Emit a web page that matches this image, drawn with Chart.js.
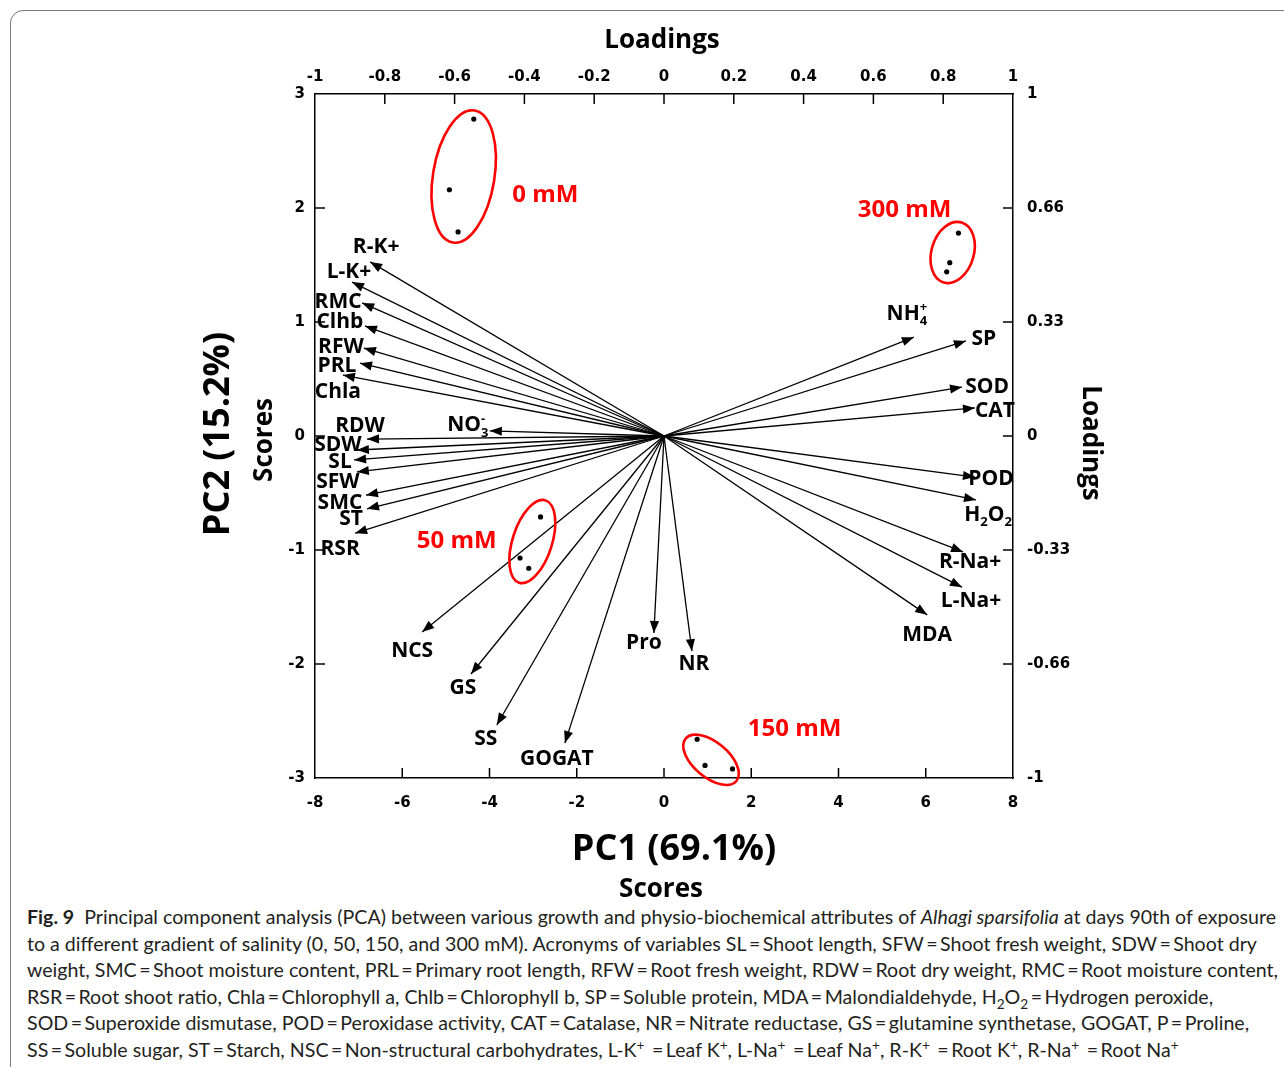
<!DOCTYPE html>
<html>
<head>
<meta charset="utf-8">
<title>PCA biplot</title>
<script src="https://cdn.jsdelivr.net/npm/chart.js@4.4.0/dist/chart.umd.min.js"></script>
<style>
  html, body { margin: 0; padding: 0; background: #fff; }
  body { width: 1284px; height: 1067px; position: relative; overflow: hidden; }
  #frame { position: absolute; left: 10px; top: 10px; width: 1320px; height: 1120px;
           border: 1.5px solid #7a7a7a; border-radius: 13px; }
  #chart { position: absolute; left: 0; top: 0; }
  #caption { position: absolute; left: 27px; top: 904px; font-family: Lato, "Noto Sans", sans-serif;
             font-size: 19px; line-height: 26.6px; color: #231f20; white-space: nowrap; transform-origin: 0 0; }
  #caption span.line { display: inline-block; }
  #caption sup, #caption sub { font-size: 0.7em; line-height: 0; }
</style>
</head>
<body>
<div id="frame"></div>
<canvas id="chart" width="1284" height="900"></canvas>
<div id="caption">
  <div><span class="line"><b>Fig. 9</b>&nbsp; Principal component analysis (PCA) between various growth and physio-biochemical attributes of <i>Alhagi sparsifolia</i> at days 90th of exposure</span></div>
  <div><span class="line">to a different gradient of salinity (0, 50, 150, and 300 mM). Acronyms of variables SL&thinsp;=&thinsp;Shoot length, SFW&thinsp;=&thinsp;Shoot fresh weight, SDW&thinsp;=&thinsp;Shoot dry</span></div>
  <div><span class="line">weight, SMC&thinsp;=&thinsp;Shoot moisture content, PRL&thinsp;=&thinsp;Primary root length, RFW&thinsp;=&thinsp;Root fresh weight, RDW&thinsp;=&thinsp;Root dry weight, RMC&thinsp;=&thinsp;Root moisture content,</span></div>
  <div><span class="line">RSR&thinsp;=&thinsp;Root shoot ratio, Chla&thinsp;=&thinsp;Chlorophyll a, Chlb&thinsp;=&thinsp;Chlorophyll b, SP&thinsp;=&thinsp;Soluble protein, MDA&thinsp;=&thinsp;Malondialdehyde, H<sub>2</sub>O<sub>2</sub>&thinsp;=&thinsp;Hydrogen peroxide,</span></div>
  <div><span class="line">SOD&thinsp;=&thinsp;Superoxide dismutase, POD&thinsp;=&thinsp;Peroxidase activity, CAT&thinsp;=&thinsp;Catalase, NR&thinsp;=&thinsp;Nitrate reductase, GS&thinsp;=&thinsp;glutamine synthetase, GOGAT, P&thinsp;=&thinsp;Proline,</span></div>
  <div><span class="line">SS&thinsp;=&thinsp;Soluble sugar, ST&thinsp;=&thinsp;Starch, NSC&thinsp;=&thinsp;Non-structural carbohydrates, L-K<sup>+</sup> &thinsp;=&thinsp;Leaf K<sup>+</sup>, L-Na<sup>+</sup> &thinsp;=&thinsp;Leaf Na<sup>+</sup>, R-K<sup>+</sup> &thinsp;=&thinsp;Root K<sup>+</sup>, R-Na<sup>+</sup> &thinsp;=&thinsp;Root Na<sup>+</sup></span></div>
</div>
<script>
// --- data: sample scores (PC1, PC2) per salinity group ---
const groupNames = ['0 mM', '50 mM', '150 mM', '300 mM'];
const pc1_0mM = [-4.36, -4.92, -4.72];
const pc2_0mM = [2.78, 2.16, 1.79];
const pc1_50mM = [-2.83, -3.30, -3.10];
const pc2_50mM = [-0.71, -1.07, -1.16];
const pc1_150mM = [0.76, 0.94, 1.57];
const pc2_150mM = [-2.66, -2.89, -2.92];
const pc1_300mM = [6.75, 6.55, 6.48];
const pc2_300mM = [1.78, 1.52, 1.44];

// --- data: variable loadings ('_' = subscript, '^' = superscript for next char) ---
const varNames = ['R-K+', 'L-K+', 'RMC', 'Clhb', 'RFW', 'PRL', 'Chla', 'NO_3^-', 'RDW', 'SDW',
  'SL', 'SFW', 'SMC', 'ST', 'RSR', 'NH_4^+', 'SP', 'SOD', 'CAT', 'POD',
  'H_2O_2', 'R-Na+', 'L-Na+', 'MDA', 'NR', 'Pro', 'NCS', 'GS', 'SS', 'GOGAT'];
const loadPC1 = [-0.842, -0.894, -0.865, -0.857, -0.860, -0.871, -0.920, -0.499, -0.851, -0.880,
  -0.888, -0.880, -0.854, -0.851, -0.885, 0.716, 0.865, 0.854, 0.891, 0.891,
  0.894, 0.857, 0.854, 0.754, 0.080, -0.029, -0.693, -0.553, -0.479, -0.284];
const loadPC2 = [0.509, 0.450, 0.389, 0.322, 0.257, 0.213, 0.178, 0.015, -0.009, -0.041,
  -0.070, -0.105, -0.173, -0.213, -0.284, 0.289, 0.278, 0.143, 0.082, -0.120,
  -0.187, -0.339, -0.442, -0.523, -0.629, -0.576, -0.573, -0.696, -0.845, -0.898];

// --- tick labels ---
const scoreXTicks = [-8, -6, -4, -2, 0, 2, 4, 6, 8];
const scoreYTicks = [-3, -2, -1, 0, 1, 2, 3];
const loadXTicks = [-1, -0.8, -0.6, -0.4, -0.2, 0, 0.2, 0.4, 0.6, 0.8, 1];
const loadXLabels = ['-1', '-0.8', '-0.6', '-0.4', '-0.2', '0', '0.2', '0.4', '0.6', '0.8', '1'];
const loadYTicks = [-1, -2 / 3, -1 / 3, 0, 1 / 3, 2 / 3, 1];
const loadYLabels = ['-1', '-0.66', '-0.33', '0', '0.33', '0.66', '1'];

// --- layout / style (pixels) ---
const labelOffset = [[6, -16], [-3, -12], [-24, -3], [-25, -5], [-23, -3], [-23, 1], [-5, 15], [-22, -7], [-7, -15], [-19, -7],
  [-14, 0], [-19, 9], [-26, 6], [-16, 9], [-15, 14], [-7, -25], [18, -3], [25, -2], [20, 1], [16, 0],
  [12, 13], [7, 9], [9, 12], [0, 19], [2, 11], [-10, 8], [-10, 17], [-8, 12], [-11, 12], [-8, 14]];
const groupLabelOffset = [[85, 13], [-73, -8], [83, -30], [-47, -47]];
const ellipsePad = [[10, 23], [17, 14], [10, 10], [11, 21]];
const ellipseShift = [[4, 2], [1, 0], [1, 0], [0, 0]];
const LABEL_FONT = '"Open Sans", "DejaVu Sans", sans-serif';
const TICK_FONT = { family: '"DejaVu Sans", sans-serif', size: 15, weight: 'bold' };

const groupData = [[pc1_0mM, pc2_0mM], [pc1_50mM, pc2_50mM], [pc1_150mM, pc2_150mM], [pc1_300mM, pc2_300mM]];

const datasets = [];
groupData.forEach(([xs, ys], g) => {
  datasets.push({
    label: groupNames[g],
    data: xs.map((v, i) => ({ x: v, y: ys[i] })),
    xAxisID: 'x', yAxisID: 'y',
    pointRadius: 2.6, pointBackgroundColor: '#000', pointBorderWidth: 0,
    showLine: false
  });
});
varNames.forEach((n, i) => {
  datasets.push({
    label: n,
    data: [{ x: 0, y: 0 }, { x: loadPC1[i], y: loadPC2[i] }],
    xAxisID: 'x2', yAxisID: 'y2',
    showLine: true, borderColor: '#000', borderWidth: 1.3,
    pointRadius: 0
  });
});

function parseLabel(s) {
  const segs = [];
  for (let i = 0; i < s.length; i++) {
    const c = s[i];
    if ((c === '_' || c === '^') && i + 1 < s.length) {
      segs.push({ t: s[i + 1], k: c === '_' ? 'sub' : 'sup' });
      i++;
    } else if (segs.length && segs[segs.length - 1].k === 'n') {
      segs[segs.length - 1].t += c;
    } else {
      segs.push({ t: c, k: 'n' });
    }
  }
  return segs;
}

function drawRich(ctx, text, cx, cy, size) {
  const segs = parseLabel(text);
  const big = 'bold ' + size + 'px ' + LABEL_FONT;
  const small = 'bold ' + Math.round(size * 0.62) + 'px ' + LABEL_FONT;
  // lay out segments; a sup right after a sub stacks above it
  let x = 0;
  const items = [];
  let lastSub = null;
  segs.forEach(s => {
    ctx.font = s.k === 'n' ? big : small;
    const w = ctx.measureText(s.t).width;
    if (s.k === 'sup' && lastSub) {
      items.push({ s, x: lastSub.x });
      x = Math.max(x, lastSub.x + w);
      lastSub = null;
    } else {
      items.push({ s, x });
      if (s.k === 'sub') lastSub = { x }; else lastSub = null;
      x += w;
    }
  });
  const left = cx - x / 2;
  const base = cy + size * 0.36;
  items.forEach(({ s, x: ox }) => {
    ctx.font = s.k === 'n' ? big : small;
    let by = base;
    if (s.k === 'sub') by = base + size * 0.25;
    if (s.k === 'sup') by = base - size * 0.42;
    ctx.fillText(s.t, left + ox, by);
  });
}

const decor = {
  id: 'pcaDecor',
  afterDatasetsDraw(chart) {
    const ctx = chart.ctx;
    const { x2, y2 } = chart.scales;
    ctx.save();
    ctx.fillStyle = '#000';
    ctx.textAlign = 'left';
    ctx.textBaseline = 'alphabetic';
    const ox = x2.getPixelForValue(0), oy = y2.getPixelForValue(0);
    // arrowheads and variable labels
    varNames.forEach((n, i) => {
      const px = x2.getPixelForValue(loadPC1[i]);
      const py = y2.getPixelForValue(loadPC2[i]);
      const a = Math.atan2(py - oy, px - ox);
      const L = 12, W = 4.6;
      ctx.beginPath();
      ctx.moveTo(px, py);
      ctx.lineTo(px - L * Math.cos(a) + W * Math.sin(a), py - L * Math.sin(a) - W * Math.cos(a));
      ctx.lineTo(px - L * Math.cos(a) - W * Math.sin(a), py - L * Math.sin(a) + W * Math.cos(a));
      ctx.closePath();
      ctx.fill();
      drawRich(ctx, n, px + labelOffset[i][0], py + labelOffset[i][1], 21);
    });
    // group ellipses and labels, sized from the group's points
    groupData.forEach((_, g) => {
      const pts = chart.getDatasetMeta(g).data.map(p => ({ x: p.x, y: p.y }));
      const mx = pts.reduce((s, p) => s + p.x, 0) / pts.length;
      const my = pts.reduce((s, p) => s + p.y, 0) / pts.length;
      let sxx = 0, syy = 0, sxy = 0;
      pts.forEach(p => { sxx += (p.x - mx) ** 2; syy += (p.y - my) ** 2; sxy += (p.x - mx) * (p.y - my); });
      const th = 0.5 * Math.atan2(2 * sxy, sxx - syy);
      const ux = Math.cos(th), uy = Math.sin(th);
      const pa = pts.map(p => (p.x - mx) * ux + (p.y - my) * uy);
      const pb = pts.map(p => -(p.x - mx) * uy + (p.y - my) * ux);
      const aMin = Math.min(...pa), aMax = Math.max(...pa);
      const bMin = Math.min(...pb), bMax = Math.max(...pb);
      const am = (aMin + aMax) / 2, bm = (bMin + bMax) / 2;
      const cx = mx + am * ux - bm * uy + ellipseShift[g][0];
      const cy = my + am * uy + bm * ux + ellipseShift[g][1];
      ctx.beginPath();
      ctx.ellipse(cx, cy, (aMax - aMin) / 2 + ellipsePad[g][0], (bMax - bMin) / 2 + ellipsePad[g][1], th, 0, Math.PI * 2);
      ctx.strokeStyle = '#f00';
      ctx.lineWidth = 2.6;
      ctx.stroke();
      ctx.fillStyle = '#f00';
      ctx.font = 'bold 24px ' + LABEL_FONT;
      ctx.textAlign = 'center';
      ctx.fillText(groupNames[g], mx + groupLabelOffset[g][0], my + groupLabelOffset[g][1] + 8.5);
      ctx.textAlign = 'left';
      ctx.fillStyle = '#000';
    });
    ctx.restore();
  },
  afterDraw(chart) {
    const ctx = chart.ctx;
    const { x, y, x2, y2 } = chart.scales;
    const area = chart.chartArea;
    const T = 10;
    ctx.save();
    ctx.strokeStyle = '#000';
    ctx.lineWidth = 1.5;
    ctx.beginPath();
    scoreXTicks.slice(1, -1).forEach(v => { const p = x.getPixelForValue(v); ctx.moveTo(p, area.bottom); ctx.lineTo(p, area.bottom - T); });
    loadXTicks.slice(1, -1).forEach(v => { const p = x2.getPixelForValue(v); ctx.moveTo(p, area.top); ctx.lineTo(p, area.top + T); });
    scoreYTicks.slice(1, -1).forEach(v => { const p = y.getPixelForValue(v); ctx.moveTo(area.left, p); ctx.lineTo(area.left + T, p); });
    loadYTicks.slice(1, -1).forEach(v => { const p = y2.getPixelForValue(v); ctx.moveTo(area.right, p); ctx.lineTo(area.right - T, p); });
    ctx.stroke();

    // axis titles
    ctx.fillStyle = '#000';
    ctx.textAlign = 'center';
    ctx.textBaseline = 'middle';
    const title = (txt, px, py, size, rot) => {
      ctx.save();
      ctx.translate(px, py);
      ctx.rotate(rot);
      ctx.font = 'bold ' + size + 'px ' + LABEL_FONT;
      ctx.fillText(txt, 0, 0);
      ctx.restore();
    };
    title('Loadings', 662, 41, 26, 0);
    title('PC1 (69.1%)', 674, 850, 36, 0);
    title('Scores', 661, 890, 26, 0);
    title('PC2 (15.2%)', 219, 434, 36, -Math.PI / 2);
    title('Scores', 265, 440, 26, -Math.PI / 2);
    title('Loadings', 1090, 443, 26, Math.PI / 2);
    ctx.restore();
  }
};

const axisBorder = { display: true, color: '#000', width: 1.5 };

new Chart(document.getElementById('chart'), {
  type: 'scatter',
  data: { datasets },
  options: {
    responsive: false,
    animation: false,
    layout: { padding: 0 },
    plugins: { legend: { display: false }, tooltip: { enabled: false } },
    scales: {
      x: {
        type: 'linear', position: 'bottom', min: -8, max: 8,
        afterBuildTicks: s => { s.ticks = scoreXTicks.map(v => ({ value: v })); },
        afterFit: s => { s.height = 122; },
        grid: { display: false, drawTicks: false }, border: axisBorder,
        ticks: { font: TICK_FONT, color: '#000', padding: 16, maxRotation: 0, autoSkip: false }
      },
      y: {
        type: 'linear', position: 'left', min: -3, max: 3,
        afterBuildTicks: s => { s.ticks = scoreYTicks.map(v => ({ value: v })); },
        afterFit: s => { s.width = 315; },
        grid: { display: false, drawTicks: false }, border: axisBorder,
        ticks: { font: TICK_FONT, color: '#000', padding: 10, autoSkip: false }
      },
      x2: {
        type: 'linear', position: 'top', min: -1, max: 1,
        afterBuildTicks: s => { s.ticks = loadXTicks.map(v => ({ value: v })); },
        afterFit: s => { s.height = 94; },
        grid: { display: false, drawTicks: false }, border: axisBorder,
        ticks: { font: TICK_FONT, color: '#000', padding: 8, maxRotation: 0, autoSkip: false,
                 callback: (v, i) => loadXLabels[i] }
      },
      y2: {
        type: 'linear', position: 'right', min: -1, max: 1,
        afterBuildTicks: s => { s.ticks = loadYTicks.map(v => ({ value: v })); },
        afterFit: s => { s.width = 271; },
        grid: { display: false, drawTicks: false }, border: axisBorder,
        ticks: { font: TICK_FONT, color: '#000', padding: 14, autoSkip: false,
                 callback: (v, i) => loadYLabels[i] }
      }
    }
  },
  plugins: [decor]
});

// fit caption lines to the figure width
const cap = document.getElementById('caption');
const lines = cap.querySelectorAll('span.line');
const w = lines[2].getBoundingClientRect().width;
cap.style.transform = 'scaleX(' + (1251 / w) + ')';
</script>
</body>
</html>
